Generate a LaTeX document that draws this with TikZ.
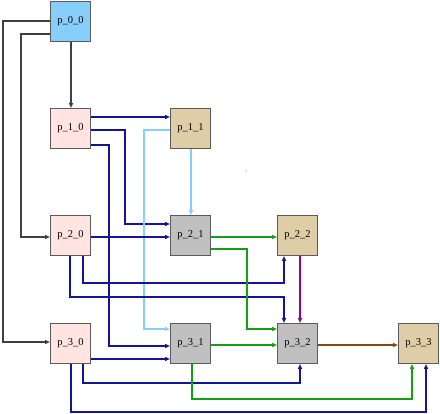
\documentclass[tikz,border=0pt]{standalone}
\usepackage{fontspec}
\setmainfont{Liberation Serif}
\usetikzlibrary{arrows.meta}
\definecolor{bordergray}{RGB}{90,90,90}
\definecolor{skyfill}{RGB}{135,206,250}
\definecolor{pinkfill}{RGB}{255,228,225}
\definecolor{tanfill}{RGB}{222,205,166}
\definecolor{grayfill}{RGB}{192,192,192}
\definecolor{edgegray}{RGB}{64,64,64}
\definecolor{edgenavy}{RGB}{20,20,150}
\definecolor{edgelight}{RGB}{135,206,250}
\definecolor{edgegreen}{RGB}{20,160,20}
\definecolor{edgepurple}{RGB}{150,0,150}
\definecolor{edgebrown}{RGB}{139,69,19}
\tikzset{
  box/.style={draw=bordergray, line width=1pt, minimum width=40pt, minimum height=40pt, inner sep=0pt, font=\fontsize{10.5}{12}\selectfont},
  e/.style={line width=1.35pt, -{Triangle[length=5pt,width=4pt]}},
  eg/.style={e, edgegray},
  en/.style={e, edgenavy},
  el/.style={e, edgelight},
  egr/.style={e, edgegreen},
  ep/.style={e, edgepurple},
  eb/.style={e, edgebrown},
}
\begin{document}
\begin{tikzpicture}[x=1pt,y=-1pt]
\useasboundingbox (0,0) rectangle (440,414);
\node[box, fill=skyfill] (p00) at (70.5,21.5) {p\_0\_0};
\node[box, fill=pinkfill] (p10) at (70.5,128.5) {p\_1\_0};
\node[box, fill=tanfill] (p11) at (190.5,128.5) {p\_1\_1};
\node[box, fill=pinkfill] (p20) at (70.5,235.5) {p\_2\_0};
\node[box, fill=grayfill] (p21) at (190.5,235.5) {p\_2\_1};
\node[box, fill=tanfill] (p22) at (297.5,235.5) {p\_2\_2};
\node[box, fill=pinkfill] (p30) at (70.5,343.5) {p\_3\_0};
\node[box, fill=grayfill] (p31) at (190.5,343.5) {p\_3\_1};
\node[box, fill=grayfill] (p32) at (297.5,343.5) {p\_3\_2};
\node[box, fill=tanfill] (p33) at (418.5,343.5) {p\_3\_3};
\fill[gray] (246,171) circle (0.6pt);
% gray edges
\draw[eg] ([xshift=0.5pt]p00.south) -- ([xshift=0.5pt]p10.north);
\draw[eg] ([yshift=-12.5pt]p00.west) -- (21,34) |- ([yshift=-1.5pt]p20.west);
\draw[eg] ([yshift=0.5pt]p00.west) -- (3,21) |- ([yshift=1.5pt]p30.west);
% navy from p10
\draw[en] ([yshift=11.5pt]p10.east) -- ([yshift=11.5pt]p11.west);
\draw[en] ([yshift=-1.5pt]p10.east) -- (125,130) |- ([yshift=11.5pt]p21.west);
\draw[en] ([yshift=-16.5pt]p10.east) -- (109,145) |- ([yshift=-2.5pt]p31.west);
% light blue from p11
\draw[el] ([xshift=0.5pt]p11.south) -- ([xshift=0.5pt]p21.north);
\draw[el] ([yshift=-1.5pt]p11.west) -- (144,130) |- ([yshift=14.5pt]p31.west);
% navy from p20
\draw[en] ([yshift=-1.5pt]p20.east) -- ([yshift=-1.5pt]p21.west);
\draw[en] ([xshift=12.5pt]p20.south) -- (83,283) -| ([xshift=-13.5pt]p22.south);
\draw[en] ([xshift=-0.5pt]p20.south) -- (70,297) -| ([xshift=-13.5pt]p32.north);
% green from p21
\draw[egr] ([yshift=-1.5pt]p21.east) -- ([yshift=-1.5pt]p22.west);
\draw[egr] ([yshift=-13.5pt]p21.east) -- (247,249) |- ([yshift=14.5pt]p32.west);
% purple
\draw[ep] ([xshift=2.5pt]p22.south) -- ([xshift=2.5pt]p32.north);
% navy from p30
\draw[en] ([yshift=-15.5pt]p30.east) -- ([yshift=-15.5pt]p31.west);
\draw[en] ([xshift=12.5pt]p30.south) -- (83,383) -| ([xshift=2.5pt]p32.south);
\draw[en] ([xshift=0.5pt]p30.south) -- (71,412) -| ([xshift=7.5pt]p33.south);
% green from p31
\draw[egr] ([yshift=-1.5pt]p31.east) -- ([yshift=-1.5pt]p32.west);
\draw[egr] ([xshift=1.5pt]p31.south) -- (192,399) -| ([xshift=-6.5pt]p33.south);
% brown
\draw[eb] ([yshift=-1.5pt]p32.east) -- ([yshift=-1.5pt]p33.west);
\end{tikzpicture}
\end{document}
